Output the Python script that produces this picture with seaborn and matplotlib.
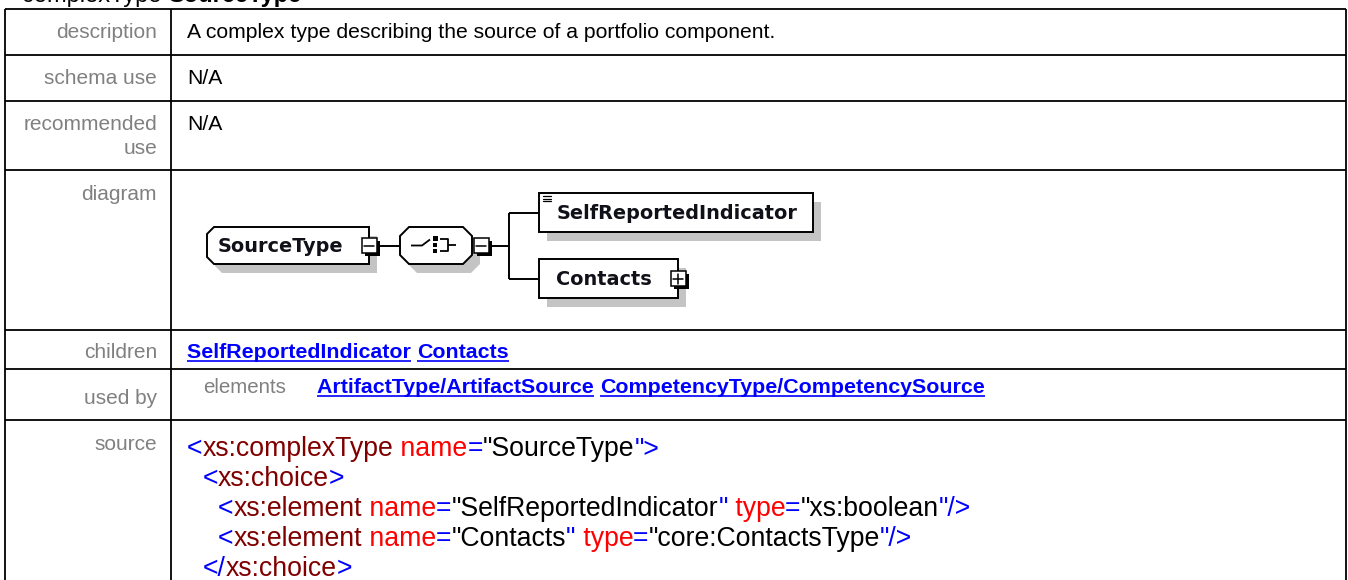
import matplotlib
matplotlib.use("Agg")
import matplotlib.pyplot as plt
from matplotlib.patches import Polygon, Rectangle
import seaborn as sns

sns.set_style("white")
plt.rcParams["font.family"] = ["Liberation Sans", "DejaVu Sans"]

# ---- content of the documentation page ----
title_kind = "complexType"
title_name = "SourceType"

row_labels = ["description", "schema use", "recommended\nuse", "diagram",
              "children", "used by", "source"]
description = "A complex type describing the source of a portfolio component."
schema_use = "N/A"
recommended_use = "N/A"
children = ["SelfReportedIndicator", "Contacts"]
used_by_kind = "elements"
used_by = ["ArtifactType/ArtifactSource", "CompetencyType/CompetencySource"]

diagram_root = "SourceType"
diagram_children = ["SelfReportedIndicator", "Contacts"]

BLUE, DRED, RED, BLACK = "#0000ff", "#800000", "#ff0000", "#000000"
source_lines = [
    [("<", BLUE), ("xs:complexType", DRED), (" name", RED), ("=", BLUE),
     ('"SourceType', BLACK), ('">', BLUE)],
    [("<", BLUE), ("xs:choice", DRED), (">", BLUE)],
    [("<", BLUE), ("xs:element", DRED), (" name", RED), ("=", BLUE),
     ('"SelfReportedIndicator', BLACK), ('"', BLUE), (" type", RED), ("=", BLUE),
     ('"xs:boolean', BLACK), ('"/>', BLUE)],
    [("<", BLUE), ("xs:element", DRED), (" name", RED), ("=", BLUE),
     ('"Contacts', BLACK), ('"', BLUE), (" type", RED), ("=", BLUE),
     ('"core:ContactsType', BLACK), ('"/>', BLUE)],
    [("</", BLUE), ("xs:choice", DRED), (">", BLUE)],
]
source_indent = [0, 1, 2, 2, 1]

# ---- figure in pixel coordinates ----
W, H = 1348, 580
fig = plt.figure(figsize=(W / 100, H / 100), dpi=100)
ax = fig.add_axes([0, 0, 1, 1])
ax.set_xlim(0, W)
ax.set_ylim(H, 0)
ax.axis("off")
renderer = fig.canvas.get_renderer()


def advance(s, size, weight="normal", family=None):
    t = ax.text(0, 0, s + "H", fontsize=size, fontweight=weight, family=family)
    h = ax.text(0, 0, "H", fontsize=size, fontweight=weight, family=family)
    w = t.get_window_extent(renderer).width - h.get_window_extent(renderer).width
    t.remove()
    h.remove()
    return w


def put_tokens(x, y, tokens, size, weight="normal", underline=False):
    cur = x
    for s, color in tokens:
        ax.text(cur, y, s, color=color, fontsize=size, fontweight=weight,
                ha="left", va="baseline")
        w = advance(s, size, weight)
        if underline and s.strip():
            ax.plot([cur, cur + w - advance(" ", size, weight) * (s != s.rstrip())],
                    [y + 2.5, y + 2.5], color=color, lw=1.2, solid_capstyle="butt")
        cur += w
    return cur


# title (mostly cut off by the top edge)
x = put_tokens(22, 2, [(title_kind + " ", BLACK)], 17)
put_tokens(x, 2, [(title_name, BLACK)], 17, weight="bold")

# table grid
edges = [9, 55, 101, 170, 330, 369, 420]
left, mid, right = 5, 171, 1346
for e in edges:
    ax.plot([left, right], [e, e], color="black", lw=1.3, solid_capstyle="butt")
for xv in (left, mid, right):
    ax.plot([xv, xv], [9, H + 5], color="black", lw=1.3, solid_capstyle="butt")

label_base = [38, 84, 130, 200, 358, 404, 450]
GRAY = "#808080"
for lab, yb in zip(row_labels, label_base):
    parts = lab.split("\n")
    for i, p in enumerate(parts):
        ax.text(157, yb + 24 * i, p, color=GRAY, fontsize=15, ha="right", va="baseline")

# simple text rows
put_tokens(187, 38, [(description, BLACK)], 15.2)
put_tokens(187, 84, [(schema_use, BLACK)], 15.2)
put_tokens(187, 130, [(recommended_use, BLACK)], 15.2)

# links
put_tokens(187, 358, [(c + " ", BLUE) for c in children[:-1]] + [(children[-1], BLUE)],
           15.4, weight="bold", underline=True)
ax.text(203, 393, used_by_kind, color=GRAY, fontsize=14.8, ha="left", va="baseline")
put_tokens(317, 393, [(u + " ", BLUE) for u in used_by[:-1]] + [(used_by[-1], BLUE)],
           15.4, weight="bold", underline=True)

# source code
for i, (line, ind) in enumerate(zip(source_lines, source_indent)):
    put_tokens(187 + 15.5 * ind, 456 + 30 * i, line, 19.2)

# ---- diagram ----
SHADOW = "#c4c4c4"
LW = 1.4
DFONT = 13.9


def node(pts, dx=8, dy=9):
    ax.add_patch(Polygon([(px + dx, py + dy) for px, py in pts], closed=True,
                         fc=SHADOW, ec="none", zorder=2))
    ax.add_patch(Polygon(pts, closed=True, fc="white", ec="black", lw=LW, zorder=3))


def expander(cx, cy, plus=False):
    s = 15
    ax.add_patch(Rectangle((cx - s / 2 + 3, cy - s / 2 + 3), s, s, fc="black",
                           ec="none", zorder=4))
    ax.add_patch(Rectangle((cx - s / 2, cy - s / 2), s, s, fc="white", ec="black",
                           lw=1.1, zorder=5))
    ax.plot([cx - 5, cx + 5], [cy, cy], color="black", lw=1.1, zorder=6)
    if plus:
        ax.plot([cx, cx], [cy - 5, cy + 5], color="black", lw=1.1, zorder=6)


def link(xs, ys):
    ax.plot(xs, ys, color="black", lw=LW, zorder=1, solid_capstyle="butt")


cy = 245.5
# root complexType box with chamfered left corners
x0, x1, y0, y1, c = 207, 369, 227, 264, 7
node([(x0 + c, y0), (x1, y0), (x1, y1), (x0 + c, y1), (x0, y1 - c), (x0, y0 + c)])
ax.text(218, 252, diagram_root, family="DejaVu Sans", fontweight="bold",
        fontsize=DFONT, color="#101018", va="baseline", zorder=6)
expander(x1, cy)
link([377, 400], [cy, cy])

# choice compositor
x0, x1, y0, y1, c = 400, 472, 227, 264, 9
node([(x0 + c, y0), (x1 - c, y0), (x1, y0 + c), (x1, y1 - c), (x1 - c, y1),
      (x0 + c, y1), (x0, y1 - c), (x0, y0 + c)])
sym = dict(color="black", lw=1.3, zorder=6, solid_capstyle="butt")
ax.plot([411, 422, 430], [cy, cy, cy - 6], **sym)
for sq_y, sz in [(236, 4.5), (242.5, 4), (249, 4)]:
    ax.add_patch(Rectangle((433, sq_y), sz, sz, fc="black", ec="none", zorder=6))
ax.plot([440, 448, 448, 440], [238.5, 238.5, 251, 251], **sym)
ax.plot([448, 456], [244.7, 244.7], **sym)
expander(481, cy)
link([489, 509], [cy, cy])

# branches
top_c, bot_c = 212.5, 278.5
link([509, 509], [top_c, bot_c])
link([509, 539], [top_c, top_c])
link([509, 539], [bot_c, bot_c])

# element SelfReportedIndicator
node([(539, 193), (813, 193), (813, 232), (539, 232)])
for k, yy in enumerate([196, 198.5, 201]):
    ax.plot([543, 551], [yy, yy], color="black", lw=0.9, zorder=6)
ax.text(557, 219, diagram_children[0], family="DejaVu Sans", fontweight="bold",
        fontsize=DFONT, color="#101018", va="baseline", zorder=6)

# element Contacts
node([(539, 259), (678, 259), (678, 298), (539, 298)])
ax.text(556, 285, diagram_children[1], family="DejaVu Sans", fontweight="bold",
        fontsize=DFONT, color="#101018", va="baseline", zorder=6)
expander(678, bot_c, plus=True)

fig.savefig("out.png", dpi=100)
